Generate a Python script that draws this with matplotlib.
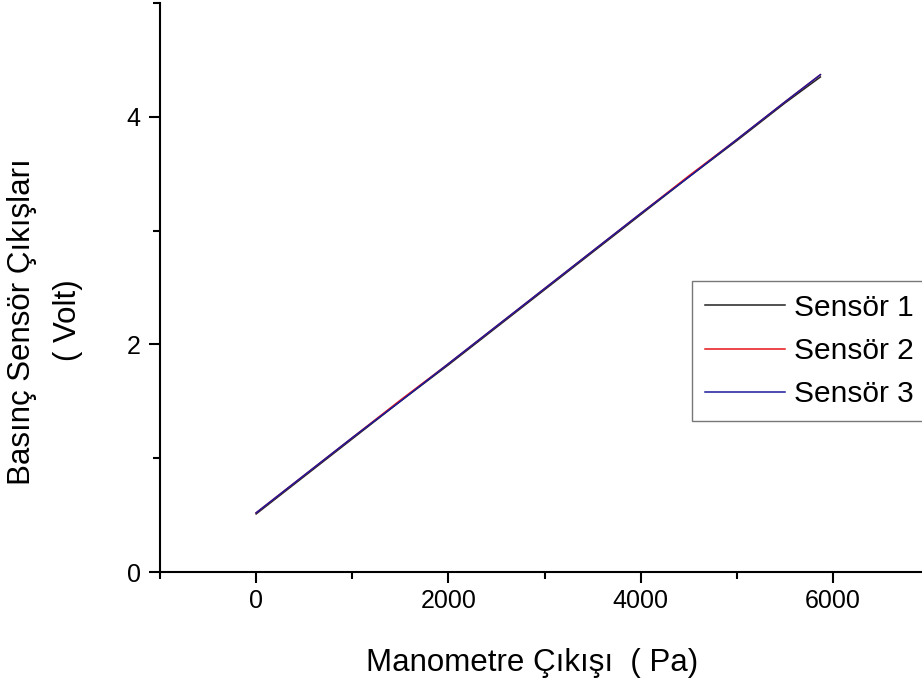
import matplotlib
matplotlib.use("Agg")
from matplotlib import pyplot as plt
from matplotlib.ticker import MultipleLocator

plt.rcParams['font.family'] = ['Liberation Sans', 'DejaVu Sans']

# manometer reading (Pa) and sensor outputs (Volt)
pressure = [0, 500, 1000, 1500, 2000, 2500, 3000, 3500, 4000, 4500, 5000, 5500, 5870]
sensor1 = [0.51, 0.84, 1.17, 1.50, 1.82, 2.15, 2.48, 2.81, 3.14, 3.47, 3.79, 4.12, 4.35]
sensor2 = [0.52, 0.85, 1.18, 1.51, 1.83, 2.16, 2.49, 2.82, 3.15, 3.48, 3.80, 4.13, 4.37]
sensor3 = [0.52, 0.85, 1.18, 1.50, 1.83, 2.16, 2.49, 2.82, 3.15, 3.47, 3.80, 4.13, 4.37]
labels = ['Sensör 1', 'Sensör 2', 'Sensör 3']
colors = ['#222222', '#e8141b', '#1a1a9c']

fig = plt.figure(figsize=(9.22, 6.84), dpi=100)
ax = fig.add_axes([160 / 922, 112 / 684, 769 / 922, 569 / 684])

for ys, lab, col in zip([sensor1, sensor2, sensor3], labels, colors):
    ax.plot(pressure, ys, color=col, lw=1.1, label=lab)

ax.set_xlim(-1000, 7000)
ax.set_ylim(0, 5)
ax.xaxis.set_major_locator(MultipleLocator(2000))
ax.xaxis.set_minor_locator(MultipleLocator(1000))
ax.yaxis.set_major_locator(MultipleLocator(2))
ax.yaxis.set_minor_locator(MultipleLocator(1))

for s in ['top', 'right']:
    ax.spines[s].set_visible(False)
for s in ['left', 'bottom']:
    ax.spines[s].set_linewidth(1.5)
    ax.spines[s].set_clip_on(False)

ax.tick_params(which='major', direction='out', length=8, width=1.5, labelsize=18)
ax.tick_params(which='minor', direction='out', length=5, width=1.5)
ax.tick_params(axis='x', pad=4)
ax.tick_params(axis='y', pad=6)

fig.text(532 / 922, 1 - 663 / 684, 'Manometre Çıkışı  ( Pa)', fontsize=22.5,
         ha='center', va='center')
fig.text(22 / 922, 1 - 322 / 684, 'Basınç Sensör Çıkışları', fontsize=22.5,
         rotation=90, ha='center', va='center')
fig.text(68 / 922, 1 - 320 / 684, '( Volt)', fontsize=22.5,
         rotation=90, ha='center', va='center')

# legend box runs past the right edge of the figure, as in the original
leg = ax.legend(loc='upper left', bbox_to_anchor=(692 / 922, 1 - 281 / 684, 0.3, 0),
                bbox_transform=fig.transFigure, mode='expand', fontsize=21.5,
                frameon=True, fancybox=False, edgecolor='#555555',
                handlelength=2.7, handletextpad=0.3, borderpad=0.43,
                labelspacing=0.51, borderaxespad=0)
leg.get_frame().set_linewidth(1.0)

fig.savefig('out.png', dpi=100)
